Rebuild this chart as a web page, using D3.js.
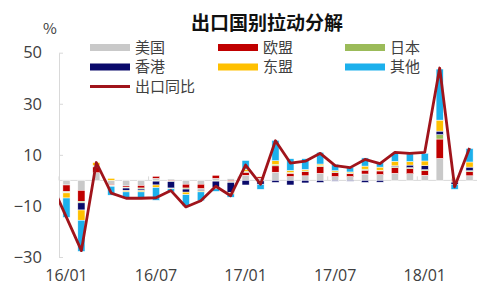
<!DOCTYPE html>
<html>
<head>
<meta charset="utf-8">
<title>出口国别拉动分解</title>
<style>
  body { margin: 0; background: #fff; }
  svg { display: block; font-family: "Noto Sans CJK SC", "Noto Sans", sans-serif; }
</style>
</head>
<body>
<script src="https://d3js.org/d3.v7.min.js"></script>
<script>
// months on the x axis
var months = ["16/01","16/02","16/03","16/04","16/05","16/06","16/07","16/08","16/09","16/10","16/11","16/12",
              "17/01","17/02","17/03","17/04","17/05","17/06","17/07","17/08","17/09","17/10","17/11","17/12",
              "18/01","18/02","18/03","18/04"];
var tickMonths = ["16/01","16/07","17/01","17/07","18/01"];
var yTicks = [-30, -10, 10, 30, 50];

// contributions by destination (pct points)
var usa   = [-1.8,-3.9, 3.0,-1.6,-2.2,-2.0, 0.8, 0.5,-1.5,-1.5, 0.8, 0.6, 2.0, 0.8, 3.2, 1.5, 1.8, 2.8, 1.5, 1.5, 2.5, 2.3, 2.8, 2.6, 2.0, 8.6, 0.8, 1.8];
var eu    = [-2.6,-4.3, 2.3,-0.4,-0.5,-1.0, 0.8,-0.3,-1.5,-1.8, 1.2,-0.5, 1.2, 0.6, 2.5, 1.3, 1.6, 2.6, 1.5, 1.2, 1.5, 1.4, 2.2, 2.0, 1.8, 7.6,-0.5, 1.6];
var japan = [-0.3,-0.6, 0.3,-0.2,-0.3,-0.4,-0.3,-0.2,-0.4,-0.3,-0.3,-0.3, 0.4,-0.2, 0.5, 0.3, 0.3, 0.4, 0.3, 0.2, 0.4, 0.3, 0.4, 0.4, 0.4, 1.7,-0.2, 0.4];
var hk    = [-0.2,-2.8, 0.2,-0.1,-1.0,-0.6,-1.5,-2.5,-1.2,-0.5,-2.5,-4.0,-1.8,-1.3,-0.8,-1.8,-1.0,-0.8,-0.3,-0.3,-0.8,-0.7, 0.3, 1.0, 1.6, 1.4,-0.8, 1.4];
var asean = [-2.0,-4.0, 1.2, 0.8,-0.5,-0.5,-1.0,-0.3,-1.0,-0.4,-0.5,-0.5, 0.8, 0.3, 1.5, 0.8, 0.6, 0.6, 0.5, 0.4, 1.2, 1.2, 1.8, 1.4, 1.8, 4.3, 0.2, 2.0];
var other = [-7.6,-12.2,0.0,-3.5,-2.5,-2.5,-5.0,-1.2,-4.5,-3.5,-1.0,-1.3, 3.4,-2.0, 8.0, 4.6, 4.2, 4.6, 2.5, 1.8, 3.2, 2.0, 3.2, 3.0, 3.0,20.0,-2.0, 5.3];

// total export yoy (line); the line enters from the month before the first bar
var exportYoY = [-14.5,-27.5, 7.0,-5.0,-7.0,-7.0,-6.8,-4.0,-10.4,-8.0,-2.3,-6.0, 6.0,-1.5,15.5, 6.8, 7.5,10.6, 5.8, 5.0, 8.2, 6.6,11.0,10.6,11.0,44.0,-2.5,12.7];
var leadYoY = -1.4; // 15/12

var seriesNames = ["美国","欧盟","日本","香港","东盟","其他"];
var seriesColors = ["#c9c9c9","#c00000","#9bbb59","#0a0a6b","#ffc000","#1cb0ec"];
var lineName = "出口同比";
var lineColor = "#a0141b";

var W = 478, H = 286;
var plot = {left: 59, right: 477, top: 52.7, bottom: 257};

var svg = d3.select("body").append("svg")
    .attr("width", W)
    .attr("height", H);

var x = d3.scaleBand()
    .domain(months)
    .range([plot.left, plot.right])
    .paddingInner(0.52)
    .paddingOuter(0.26);

var y = d3.scaleLinear()
    .domain([-30, 50])
    .range([plot.bottom, plot.top]);

// index scale for the line so the lead month (index -1) lands one step left
var xi = d3.scaleLinear()
    .domain([0, months.length - 1])
    .range([x(months[0]) + x.bandwidth() / 2, x(months[months.length - 1]) + x.bandwidth() / 2]);

// table for stacking
var table = months.map(function(m, i) {
  return {month: m, "美国": usa[i], "欧盟": eu[i], "日本": japan[i], "香港": hk[i], "东盟": asean[i], "其他": other[i]};
});
var stacked = d3.stack()
    .keys(seriesNames)
    .offset(d3.stackOffsetDiverging)(table);

svg.append("defs").append("clipPath")
    .attr("id", "plotClip")
  .append("rect")
    .attr("x", plot.left)
    .attr("y", plot.top - 10)
    .attr("width", plot.right - plot.left)
    .attr("height", plot.bottom - plot.top + 20);

// title
svg.append("text")
    .attr("x", 267)
    .attr("y", 29.5)
    .attr("text-anchor", "middle")
    .style("font-size", "19px")
    .style("font-weight", "bold")
    .style("fill", "#111")
    .text("出口国别拉动分解");

svg.append("text")
    .attr("x", 50)
    .attr("y", 34)
    .attr("text-anchor", "middle")
    .style("font-size", "15px")
    .style("fill", "#404040")
    .text("%");

// y axis
var yAxis = svg.append("g")
    .attr("transform", "translate(" + plot.left + ",0)")
    .call(d3.axisLeft(y).tickValues(yTicks).tickSizeInner(-4).tickSizeOuter(0).tickPadding(17));
yAxis.select(".domain").attr("stroke", "#d9d9d9");
yAxis.selectAll(".tick line").attr("stroke", "#d9d9d9");
yAxis.selectAll(".tick text")
    .style("font-size", "16.5px")
    .style("fill", "#404040")
    .style("font-family", "'Open Sans', 'Noto Sans', sans-serif");

// zero line with small ticks at labelled months
svg.append("line")
    .attr("x1", plot.left)
    .attr("x2", plot.right)
    .attr("y1", y(0))
    .attr("y2", y(0))
    .attr("stroke", "#d9d9d9")
    .attr("stroke-width", 1);

svg.selectAll(".xtick")
  .data(tickMonths)
  .enter().append("line")
    .attr("class", "xtick")
    .attr("x1", function(d) { return x(d) - x.step() * x.paddingInner() / 2; })
    .attr("x2", function(d) { return x(d) - x.step() * x.paddingInner() / 2; })
    .attr("y1", y(0))
    .attr("y2", y(0) - 4)
    .attr("stroke", "#d9d9d9");

// x labels
var xAxis = svg.append("g")
    .attr("transform", "translate(0," + plot.bottom + ")")
    .call(d3.axisBottom(x).tickValues(tickMonths).tickSize(0).tickPadding(13));
xAxis.select(".domain").remove();
xAxis.selectAll(".tick text")
    .style("font-size", "16px")
    .style("fill", "#404040")
    .style("font-family", "'Open Sans', 'Noto Sans', sans-serif");

// stacked bars
svg.append("g")
  .selectAll("g")
  .data(stacked)
  .enter().append("g")
    .attr("fill", function(d, i) { return seriesColors[i]; })
  .selectAll("rect")
  .data(function(d) { return d; })
  .enter().append("rect")
    .attr("x", function(d) { return x(d.data.month); })
    .attr("width", x.bandwidth())
    .attr("y", function(d) { return y(Math.max(d[0], d[1])); })
    .attr("height", function(d) { return Math.abs(y(d[0]) - y(d[1])); })
    .attr("stroke", "#fff")
    .attr("stroke-width", 0.5);

// export yoy line
var linePts = [[-1, leadYoY]].concat(exportYoY.map(function(v, i) { return [i, v]; }));
svg.append("path")
    .datum(linePts)
    .attr("clip-path", "url(#plotClip)")
    .attr("fill", "none")
    .attr("stroke", lineColor)
    .attr("stroke-width", 2.8)
    .attr("stroke-linejoin", "round")
    .attr("d", d3.line()
        .x(function(d) { return xi(d[0]); })
        .y(function(d) { return y(d[1]); }));

// legend
var legendItems = seriesNames.concat([lineName]);
var legendCols = [90, 218, 345];
var legendRows = [47.5, 67, 86.5];
var legend = svg.selectAll(".legend")
  .data(legendItems)
  .enter().append("g")
    .attr("class", "legend")
    .attr("transform", function(d, i) {
      return "translate(" + legendCols[i % 3] + "," + legendRows[Math.floor(i / 3)] + ")";
    });

legend.append("rect")
    .attr("x", 0)
    .attr("width", 40)
    .attr("y", function(d) { return d === lineName ? -1.5 : -3.5; })
    .attr("height", function(d) { return d === lineName ? 3 : 7; })
    .attr("fill", function(d, i) { return d === lineName ? lineColor : seriesColors[i]; });

legend.append("text")
    .attr("x", 45)
    .attr("y", 0)
    .attr("dy", "0.36em")
    .style("font-size", "15px")
    .style("fill", "#404040")
    .text(function(d) { return d; });
</script>
</body>
</html>
